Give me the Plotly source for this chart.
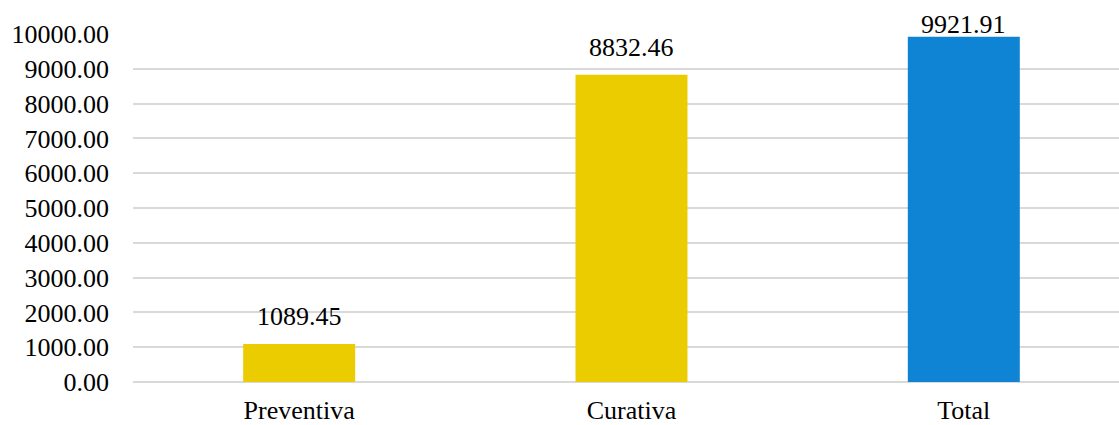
import plotly.graph_objects as go

# Maintenance cost by type
categories = ["Preventiva", "Curativa", "Total"]
values = [1089.45, 8832.46, 9921.91]
bar_colors = ["#EBCC00", "#EBCC00", "#1084D4"]
y_ticks = [0, 1000, 2000, 3000, 4000, 5000, 6000, 7000, 8000, 9000, 10000]

FONT = dict(family="Liberation Serif, Times New Roman, serif", size=26, color="#000000")

x_pos = list(range(len(categories)))

fig = go.Figure(
    go.Bar(
        x=x_pos,
        y=values,
        width=0.337,
        marker=dict(color=bar_colors, line=dict(width=0)),
        hoverinfo="skip",
    )
)

# value labels above each bar; the tallest one is pulled down to stay inside the page
for xi, v in zip(x_pos, values):
    fig.add_annotation(
        x=xi, y=v, text=f"{v:.2f}", showarrow=False,
        xanchor="center", yanchor="bottom",
        yshift=-4 if v > 9500 else 11,
        font=FONT,
    )

fig.update_layout(
    width=1119, height=425,
    margin=dict(l=133, r=0, t=34, b=41),
    paper_bgcolor="white", plot_bgcolor="white",
    showlegend=False,
    font=FONT,
)
fig.update_xaxes(
    range=[-0.5, 2.467],
    tickmode="array", tickvals=x_pos, ticktext=categories,
    showgrid=False, zeroline=False, showline=False,
    ticks="", ticklabelstandoff=10,
    fixedrange=True,
)
fig.update_yaxes(
    range=[0, 10000],
    tickmode="array", tickvals=y_ticks,
    ticktext=[f"{t:.2f}" for t in y_ticks],
    showgrid=True, gridcolor="#D9D9D9", gridwidth=1.5,
    zeroline=True, zerolinecolor="#D9D9D9", zerolinewidth=1.5,
    showline=False, ticks="", ticklabelstandoff=23,
    fixedrange=True,
)

fig.write_html("out.html", config={"displayModeBar": False})
